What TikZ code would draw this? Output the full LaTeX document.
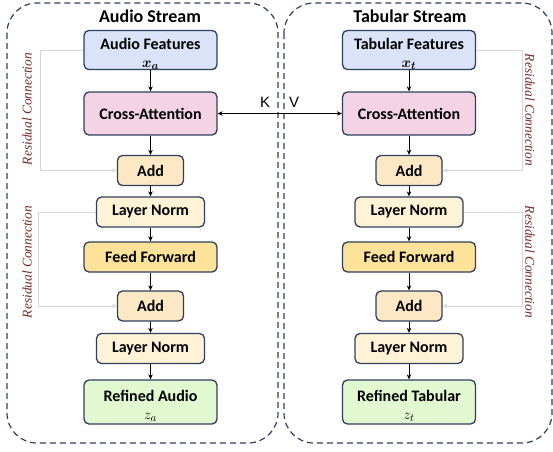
\documentclass[tikz,border=0pt]{standalone}
\usepackage{fontspec}
\usepackage{bm}
\setmainfont{Carlito}
\newfontfamily\resfont{Liberation Serif}
\newfontfamily\kvfont{Liberation Sans}
\usetikzlibrary{arrows.meta}
\definecolor{edgec}{RGB}{47,62,92}
\definecolor{featc}{RGB}{218,227,248}
\definecolor{attc}{RGB}{243,211,228}
\definecolor{addc}{RGB}{252,232,196}
\definecolor{lnc}{RGB}{254,243,214}
\definecolor{ffc}{RGB}{253,227,153}
\definecolor{outc}{RGB}{226,248,208}
\definecolor{restext}{RGB}{120,40,40}
\definecolor{resline}{RGB}{215,215,215}
\tikzset{
  blockbox/.style={draw=edgec, line width=1.3pt, rounded corners=5pt, align=center,
    inner sep=0pt, font=\fontsize{16}{19}\selectfont\bfseries},
  featbox/.style={blockbox, fill=featc, minimum width=133pt, minimum height=38pt},
  attbox/.style={blockbox, fill=attc, minimum width=133pt, minimum height=43pt},
  addbox/.style={blockbox, fill=addc, minimum width=66pt, minimum height=30pt},
  lnbox/.style={blockbox, fill=lnc, minimum width=108pt, minimum height=30pt},
  ffbox/.style={blockbox, fill=ffc, minimum width=133pt, minimum height=30pt},
  outbox/.style={blockbox, fill=outc, minimum width=133pt, minimum height=44pt},
  container/.style={draw=edgec, line width=1.2pt, dash pattern=on 6pt off 4pt, rounded corners=30pt},
  flow/.style={draw=black, line width=0.9pt, -{Stealth[length=5pt,width=4.5pt]}},
  res/.style={draw=resline, line width=0.9pt, -{Stealth[length=5pt,width=4.5pt]}},
  reslabel/.style={text=restext, font=\resfont\itshape\fontsize{13.4}{15}\selectfont},
  title/.style={font=\fontsize{18}{21}\selectfont\bfseries},
  kvlabel/.style={font=\kvfont\fontsize{15}{17}\selectfont}
}
\begin{document}
\begin{tikzpicture}[x=1pt,y=-1pt]
\useasboundingbox (0,0) rectangle (553,451);
% containers
\draw[container] (7,3) rectangle (278,443);
\draw[container] (284,3) rectangle (552,443);
\node[title] (tA) at (150,16) {Audio Stream};
\node[title] (tT) at (410,16) {Tabular Stream};
% left column
\node[featbox] (fa) at (150.5,50) {\rule{0pt}{19pt}Audio Features\\[-1pt]{\fontsize{15.5}{17}\selectfont$\bm{x_a}$}};
\node[attbox] (ca) at (150.5,113.5) {Cross-Attention};
\node[addbox] (aa1) at (150.5,170.5) {Add};
\node[lnbox] (la1) at (150.5,212) {Layer Norm};
\node[ffbox] (ffa) at (150.5,257) {Feed Forward};
\node[addbox] (aa2) at (150.5,306) {Add};
\node[lnbox] (la2) at (150.5,348.5) {Layer Norm};
\node[outbox] (oa) at (150.5,402) {\rule{0pt}{19pt}Refined Audio\\[-1pt]{\mdseries\fontsize{15.5}{17}\selectfont$z_a$}};
% right column
\node[featbox] (ft) at (409,50) {\rule{0pt}{19pt}Tabular Features\\[-1pt]{\fontsize{15.5}{17}\selectfont$\bm{x_t}$}};
\node[attbox] (ct) at (409,113.5) {Cross-Attention};
\node[addbox] (at1) at (409,170.5) {Add};
\node[lnbox] (lt1) at (409,212) {Layer Norm};
\node[ffbox] (fft) at (409,257) {Feed Forward};
\node[addbox] (at2) at (409,306) {Add};
\node[lnbox] (lt2) at (409,348.5) {Layer Norm};
\node[outbox] (ot) at (409,402) {\rule{0pt}{19pt}Refined Tabular\\[-1pt]{\mdseries\fontsize{15.5}{17}\selectfont$z_t$}};
% flows
\foreach \a/\b in {fa/ca,ca/aa1,aa1/la1,la1/ffa,ffa/aa2,aa2/la2,la2/oa,
                   ft/ct,ct/at1,at1/lt1,lt1/fft,fft/at2,at2/lt2,lt2/ot}
  \draw[flow] (\a) -- (\b);
% K V
\draw[flow, {Stealth[length=5pt,width=4.5pt]}-{Stealth[length=5pt,width=4.5pt]}] (ca) -- (ct);
\node[kvlabel] (K) at (265,102) {K};
\node[kvlabel] (V) at (294,102) {V};
% residuals
\coordinate (rl1) at (40,50);
\coordinate (rl2) at (38,212);
\coordinate (rr1) at (522,50);
\coordinate (rr2) at (522,212);
\draw[res] (fa.west) -- (rl1) |- (aa1.west);
\draw[res] (la1.west) -- (rl2) |- (aa2.west);
\draw[res] (ft.east) -- (rr1) |- (at1.east);
\draw[res] (lt1.east) -- (rr2) |- (at2.east);
\node[reslabel, rotate=90] (rlA) at (27,109) {Residual Connection};
\node[reslabel, rotate=90] (rlB) at (27,262) {Residual Connection};
\node[reslabel, rotate=-90] (rrA) at (530,110) {Residual Connection};
\node[reslabel, rotate=-90] (rrB) at (530,262) {Residual Connection};
\end{tikzpicture}
\end{document}
